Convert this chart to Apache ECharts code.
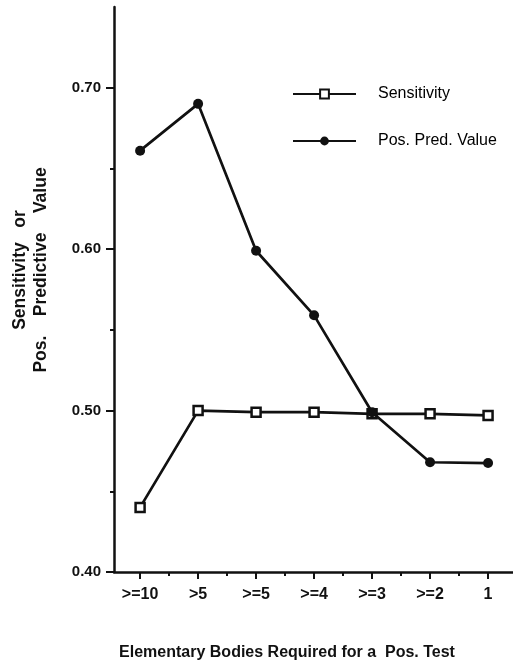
<!DOCTYPE html>
<html>
<head>
<meta charset="utf-8">
<script src="https://cdn.jsdelivr.net/npm/echarts@6/dist/echarts.min.js"></script>
<style>
html,body{margin:0;padding:0;background:#fff;}
#chart{width:513px;height:660px;}
</style>
</head>
<body>
<div id="chart"></div>
<script>
var categories = ['>=10', '>5', '>=5', '>=4', '>=3', '>=2', '1'];
var sensitivity = [0.44, 0.500, 0.499, 0.499, 0.498, 0.498, 0.497];
var ppv = [0.661, 0.690, 0.599, 0.559, 0.499, 0.468, 0.4675];
var yTicks = [0.40, 0.50, 0.60, 0.70];
var yMinorTicks = [0.45, 0.55, 0.65];
var xTitle = 'Elementary Bodies Required for a  Pos. Test';
var yTitle = 'Sensitivity   or\nPos.    Predictive    Value';

var FONT = '"Liberation Sans", Arial, Helvetica, sans-serif';
var catPos = categories.map(function (c, i) { return i + 1; });
var catMinor = catPos.slice(0, -1).map(function (v) { return v + 0.5; });

function pairs(arr) { return arr.map(function (v, i) { return [i + 1, v]; }); }

var chart = echarts.init(document.getElementById('chart'), null, {renderer: 'canvas'});
chart.setOption({
  backgroundColor: '#fff',
  animation: false,
  grid: {left: 114, right: 0, top: 7, bottom: 88, containLabel: false},
  legend: {
    orient: 'vertical', left: 292, top: 86, padding: 0, itemWidth: 63, itemHeight: 11, itemGap: 31,
    textStyle: {fontFamily: FONT, fontSize: 16, color: '#000', padding: [0, 0, 0, 17]},
    data: ['Sensitivity', 'Pos. Pred. Value']
  },
  xAxis: [{
    type: 'value', min: 0.55, max: 7.43, position: 'bottom',
    axisLine: {show: true, lineStyle: {color: '#111', width: 2.5}},
    axisTick: {show: true, customValues: catPos, length: 7, lineStyle: {color: '#111', width: 2}},
    axisLabel: {show: true, customValues: catPos, margin: 15,
      formatter: function (v) { return categories[Math.round(v) - 1] || ''; },
      fontFamily: FONT, fontWeight: 'bold', fontSize: 16, color: '#111'},
    splitLine: {show: false}
  }, {
    type: 'value', min: 0.55, max: 7.43, position: 'bottom',
    axisLine: {show: false},
    axisTick: {show: true, customValues: catMinor, length: 4, lineStyle: {color: '#111', width: 2}},
    axisLabel: {show: false},
    splitLine: {show: false}
  }],
  yAxis: [{
    type: 'value', min: 0.40, max: 0.75, position: 'left',
    axisLine: {show: true, lineStyle: {color: '#111', width: 2.5}},
    axisTick: {show: true, customValues: yTicks, length: 8, lineStyle: {color: '#111', width: 2}},
    axisLabel: {show: true, customValues: yTicks, margin: 13,
      formatter: function (v) { return v.toFixed(2); },
      fontFamily: FONT, fontWeight: 'bold', fontSize: 15, color: '#111'},
    splitLine: {show: false}
  }, {
    type: 'value', min: 0.40, max: 0.75, position: 'left',
    axisLine: {show: false},
    axisTick: {show: true, customValues: yMinorTicks, length: 4, lineStyle: {color: '#111', width: 2}},
    axisLabel: {show: false},
    splitLine: {show: false}
  }],
  graphic: [{
    type: 'text', x: 31, y: 270, rotation: Math.PI / 2,
    style: {text: yTitle, fontFamily: FONT, fontWeight: 'bold', fontSize: 17.5, fill: '#111',
      align: 'center', verticalAlign: 'middle', lineHeight: 21}
  }, {
    type: 'text', x: 287, y: 653,
    style: {text: xTitle, fontFamily: FONT, fontWeight: 'bold', fontSize: 16, fill: '#111',
      align: 'center', verticalAlign: 'middle'}
  }],
  series: [{
    name: 'Sensitivity', type: 'line', xAxisIndex: 0, yAxisIndex: 0,
    data: pairs(sensitivity),
    symbol: 'rect', symbolSize: 9, showAllSymbol: true,
    lineStyle: {color: '#111', width: 2.7},
    itemStyle: {color: '#fff', borderColor: '#111', borderWidth: 2.5},
    z: 2
  }, {
    name: 'Pos. Pred. Value', type: 'line', xAxisIndex: 0, yAxisIndex: 0,
    data: pairs(ppv),
    symbol: 'circle', symbolSize: 10, showAllSymbol: true,
    lineStyle: {color: '#111', width: 2.7},
    itemStyle: {color: '#111'},
    z: 3
  }]
});
</script>
</body>
</html>
